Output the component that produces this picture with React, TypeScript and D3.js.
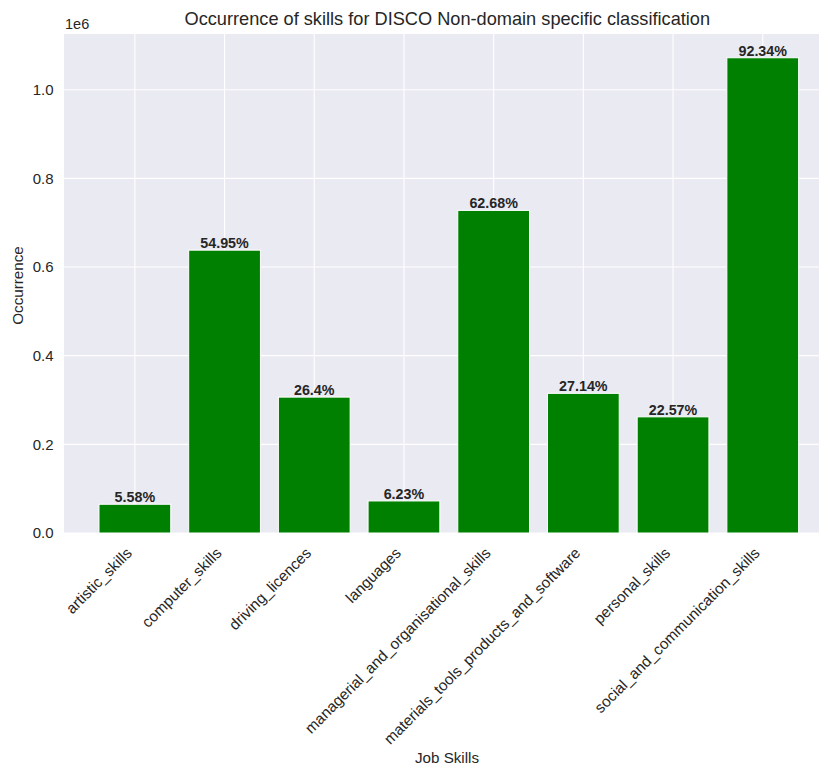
import React from "react";
import * as d3 from "d3";

const skills = [
  "artistic_skills",
  "computer_skills",
  "driving_licences",
  "languages",
  "managerial_and_organisational_skills",
  "materials_tools_products_and_software",
  "personal_skills",
  "social_and_communication_skills",
];
const occurrence = [64800, 638000, 306500, 72300, 727700, 315000, 262000, 1072000];
const percentLabels = ["5.58%", "54.95%", "26.4%", "6.23%", "62.68%", "27.14%", "22.57%", "92.34%"];
const yTicks = [0, 0.2e6, 0.4e6, 0.6e6, 0.8e6, 1.0e6];

const W = 819;
const H = 767;
const left = 64;
const right = 833.6;
const top = 34;
const bottom = 533;
const FONT = "'Liberation Sans', Arial, 'DejaVu Sans', sans-serif";
const TXT = "#262626";

export default function App() {
  const x = d3
    .scaleBand<string>()
    .domain(skills)
    .range([left, right])
    .paddingInner(0.2)
    .paddingOuter(0.39);
  const yMax = (d3.max(occurrence) as number) * 1.05;
  const y = d3.scaleLinear().domain([0, yMax]).range([bottom, top]);
  const fmt = d3.format(".1f");

  return (
    <svg
      width={W}
      height={H}
      style={{ position: "absolute", left: 0, top: 0, background: "#fff" }}
      fontFamily={FONT}
    >
      <rect x={left} y={top} width={right - left} height={bottom - top} fill="#EAEAF2" />
      {yTicks.map((t) => (
        <line key={"gy" + t} x1={left} x2={right} y1={y(t)} y2={y(t)} stroke="#fff" strokeWidth={1.1} />
      ))}
      {skills.map((s) => {
        const cx = (x(s) as number) + x.bandwidth() / 2;
        return <line key={"gx" + s} x1={cx} x2={cx} y1={top} y2={bottom} stroke="#fff" strokeWidth={1.1} />;
      })}
      {skills.map((s, i) => (
        <rect
          key={"b" + s}
          x={x(s)}
          y={y(occurrence[i])}
          width={x.bandwidth()}
          height={bottom - y(occurrence[i])}
          fill="#008000"
          stroke="#fff"
          strokeWidth={1}
        />
      ))}
      {skills.map((s, i) => (
        <text
          key={"p" + s}
          x={(x(s) as number) + x.bandwidth() / 2}
          y={y(occurrence[i]) - 2}
          textAnchor="middle"
          fontSize={14.3}
          fontWeight="bold"
          fill={TXT}
        >
          {percentLabels[i]}
        </text>
      ))}
      {yTicks.map((t) => (
        <text
          key={"ty" + t}
          x={53.5}
          y={y(t)}
          dy="0.35em"
          textAnchor="end"
          fontSize={15}
          fill={TXT}
        >
          {fmt(t / 1e6)}
        </text>
      ))}
      <text x={left + 1} y={29} fontSize={14.5} fill={TXT}>
        1e6
      </text>
      {skills.map((s) => {
        const cx = (x(s) as number) + x.bandwidth() / 2 - 2;
        const ty = bottom + 21;
        return (
          <text
            key={"tx" + s}
            transform={`translate(${cx},${ty}) rotate(-45)`}
            textAnchor="end"
            fontSize={15.3}
            fill={TXT}
          >
            {s}
          </text>
        );
      })}
      <text
        x={(left + right) / 2 - 1.5}
        y={24.5}
        textAnchor="middle"
        fontSize={18.2}
        fill={TXT}
      >
        Occurrence of skills for DISCO Non-domain specific classification
      </text>
      <text
        transform={`translate(23,${(top + bottom) / 2 + 2}) rotate(-90)`}
        textAnchor="middle"
        fontSize={15.2}
        fill={TXT}
      >
        Occurrence
      </text>
      <text x={447} y={763} textAnchor="middle" fontSize={15.2} fill={TXT}>
        Job Skills
      </text>
    </svg>
  );
}
